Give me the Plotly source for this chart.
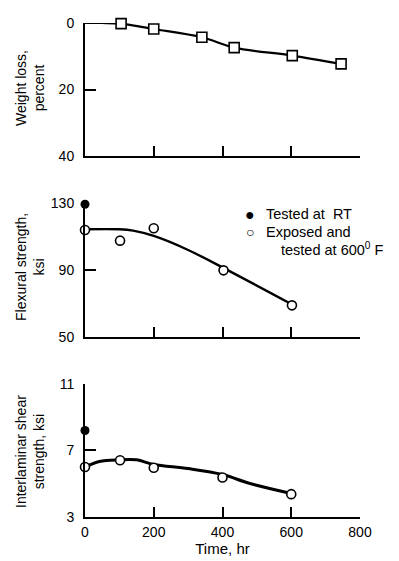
import plotly.graph_objects as go

# ---- data ----
# Weight loss (top panel)
wl_time = [105, 200, 340, 434, 603, 745]
wl_loss = [0.2, 1.8, 4.3, 7.4, 9.8, 12.3]
wl_curve_time = [0, 50, 105, 200, 340, 434, 603, 745]
wl_curve_loss = [0.0, 0.0, 0.2, 1.8, 4.3, 7.4, 9.8, 12.3]

# Flexural strength (middle panel)
fx_rt_time = [0]
fx_rt_val = [129.4]
fx_exp_time = [0, 102, 200, 403, 602]
fx_exp_val = [114.0, 107.6, 115.0, 89.8, 68.8]
fx_curve_time = [0, 100, 140, 200, 300, 405, 600]
fx_curve_val = [114.4, 114.4, 113.6, 110.4, 102.0, 91.0, 69.6]

# Interlaminar shear strength (bottom panel)
ils_rt_time = [0]
ils_rt_val = [8.2]
ils_exp_time = [0, 102, 200, 400, 600]
ils_exp_val = [6.0, 6.4, 5.95, 5.36, 4.36]
ils_curve_time = [0, 42, 100, 150, 200, 300, 400, 480, 600]
ils_curve_val = [6.0, 6.33, 6.43, 6.43, 6.15, 5.9, 5.54, 5.0, 4.4]

x_ticks = [0, 200, 400, 600, 800]
wl_ticks = [0, 20, 40]
fx_ticks = [50, 90, 130]
ils_ticks = [3, 7, 11]

# page has an 8px body margin: figure is drawn at (8, 8)
OFF = 8
W, H = 399 - OFF, 561 - OFF
L, R = 85 - OFF, 399 - 360
FONT = "Liberation Sans, Arial, sans-serif"

def ydom(top_px, bot_px):
    return [1 - (bot_px - OFF) / H, 1 - (top_px - OFF) / H]

fig = go.Figure()

# top
fig.add_trace(go.Scatter(x=wl_curve_time, y=wl_curve_loss, mode="lines", line=dict(color="black", width=2.2, shape="spline"),
                         xaxis="x", yaxis="y", showlegend=False, cliponaxis=False))
fig.add_trace(go.Scatter(x=wl_time, y=wl_loss, mode="markers",
                         marker=dict(symbol="square", size=10, color="white", line=dict(color="black", width=1.6)),
                         xaxis="x", yaxis="y", showlegend=False, cliponaxis=False))
# middle
fig.add_trace(go.Scatter(x=fx_curve_time, y=fx_curve_val, mode="lines", line=dict(color="black", width=2.4, shape="spline"),
                         xaxis="x2", yaxis="y2", showlegend=False, cliponaxis=False))
fig.add_trace(go.Scatter(x=fx_exp_time, y=fx_exp_val, mode="markers",
                         marker=dict(symbol="circle", size=9, color="white", line=dict(color="black", width=1.6)),
                         xaxis="x2", yaxis="y2", showlegend=False, cliponaxis=False))
fig.add_trace(go.Scatter(x=fx_rt_time, y=fx_rt_val, mode="markers",
                         marker=dict(symbol="circle", size=9, color="black"),
                         xaxis="x2", yaxis="y2", showlegend=False, cliponaxis=False))
# bottom
fig.add_trace(go.Scatter(x=ils_curve_time, y=ils_curve_val, mode="lines", line=dict(color="black", width=3, shape="spline"),
                         xaxis="x3", yaxis="y3", showlegend=False, cliponaxis=False))
fig.add_trace(go.Scatter(x=ils_exp_time, y=ils_exp_val, mode="markers",
                         marker=dict(symbol="circle", size=9, color="white", line=dict(color="black", width=1.6)),
                         xaxis="x3", yaxis="y3", showlegend=False, cliponaxis=False))
fig.add_trace(go.Scatter(x=ils_rt_time, y=ils_rt_val, mode="markers",
                         marker=dict(symbol="circle", size=9, color="black"),
                         xaxis="x3", yaxis="y3", showlegend=False, cliponaxis=False))

xcommon = dict(range=[0, 800], showgrid=False, zeroline=False, showline=True, linecolor="black", linewidth=2,
               ticks="inside", ticklen=10, tickwidth=2, tickcolor="black", tickvals=x_ticks, fixedrange=True,
               automargin=False)
ycommon = dict(showgrid=False, zeroline=False, showline=True, linecolor="black", linewidth=2,
               ticks="inside", ticklen=11, tickwidth=2, tickcolor="black", ticklabelstandoff=6,
               tickfont=dict(family=FONT, size=14, color="black"), fixedrange=True, automargin=False)

fig.update_layout(
    width=W, height=H, margin=dict(l=L, r=R, t=0, b=0, autoexpand=False),
    paper_bgcolor="white", plot_bgcolor="white",
    font=dict(family=FONT, color="black"),
    xaxis=dict(**xcommon, domain=[0, 1], anchor="y", showticklabels=False),
    yaxis=dict(**ycommon, domain=ydom(23, 156), range=[40, 0], tickvals=wl_ticks, anchor="x"),
    xaxis2=dict(**xcommon, domain=[0, 1], anchor="y2", showticklabels=False),
    yaxis2=dict(**ycommon, domain=ydom(203.3, 336.7), range=[50, 130], tickvals=fx_ticks, anchor="x2"),
    xaxis3=dict(**xcommon, domain=[0, 1], anchor="y3", showticklabels=True, ticklabelstandoff=1,
                tickfont=dict(family=FONT, size=14, color="black"),
                title=dict(text="Time, hr", font=dict(family=FONT, size=15, color="black"), standoff=3)),
    yaxis3=dict(**ycommon, domain=ydom(384, 516.7), range=[3, 11], tickvals=ils_ticks, anchor="x3"),
)

def ytitle(text, y_px):
    fig.add_annotation(text=text, xref="paper", yref="paper", x=0, xshift=(30 - 85), y=1 - (y_px - OFF) / H,
                       xanchor="center", yanchor="middle", textangle=-90, showarrow=False,
                       font=dict(family=FONT, size=14, color="black"))

ytitle("Weight loss,<br>percent", 88)
ytitle("Flexural strength,<br>ksi", 267)
ytitle("Interlaminar shear<br>strength, ksi", 452)

def legtext(text, x_px, y_px, size=14.5, anchor="left"):
    fig.add_annotation(text=text, xref="paper", yref="paper", x=(x_px - 85) / 275, y=1 - (y_px - OFF) / H,
                       xanchor=anchor, yanchor="middle", showarrow=False,
                       font=dict(family=FONT, size=size, color="black"))

legtext("●", 250, 214, size=16, anchor="center")
legtext("○", 250, 232, size=14, anchor="center")
legtext("Tested at  RT", 264, 214)
legtext("Exposed and", 264, 232)
legtext("tested at 600<sup>0</sup> F", 279, 249)

fig.write_html("out.html")
